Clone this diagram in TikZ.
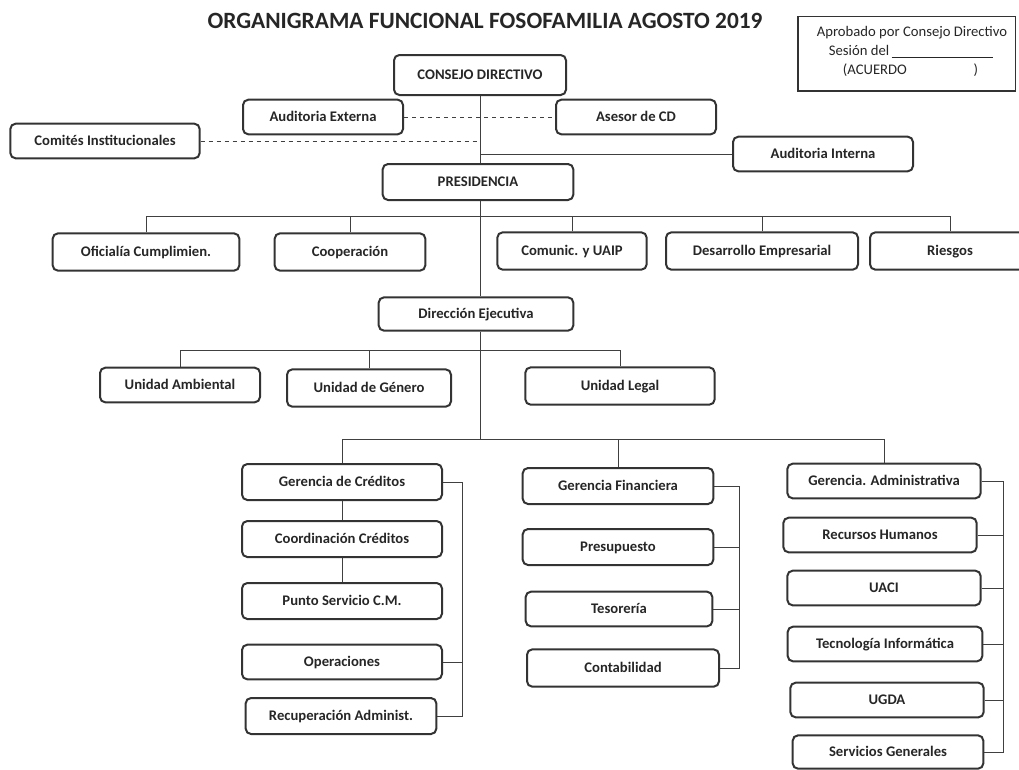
\documentclass[tikz,border=0pt]{standalone}
\usepackage{fontspec}
\setmainfont{Carlito}
\tikzset{every picture/.style={line width=0.75pt}}
\tikzset{
  unit/.style={draw=black!80, line width=1.5pt, rounded corners=4pt, inner sep=0pt,
    text height=7pt, text depth=0pt,
    text=black!85, font=\fontsize{11}{13}\selectfont\bfseries},
  link/.style={draw=black!75, line width=0.7pt},
}

\begin{document}
\begin{tikzpicture}[x=0.75pt,y=0.75pt,yscale=-1,xscale=1]
\useasboundingbox (0,0) rectangle (1019,769);
% Title
\node (title) at (485,21) {\fontsize{17.5}{20}\selectfont\bfseries\color{black!85}ORGANIGRAMA FUNCIONAL FOSOFAMILIA AGOSTO 2019};
%Shape: approval box
\node[draw=black!80, line width=1pt, minimum width=163pt, minimum height=56pt] (aprob) at (906.5,53.5) {};
\node[font=\fontsize{11}{13}\selectfont, text=black!85] (aprobtxt) at (912,33) {Aprobado por Consejo Directivo};
\node[font=\fontsize{11}{13}\selectfont, text=black!85, anchor=west] (sesion) at (824,52) {Sesión del\,\underline{\hspace{76pt}}};
\node[font=\fontsize{11}{13}\selectfont, text=black!85, anchor=west] (acuerdo) at (838,70) {(ACUERDO\hspace{50pt})};

% Top level
\node[unit, minimum width=129pt, minimum height=30pt] (consejo) at (480,75) {CONSEJO DIRECTIVO};
\node[unit, minimum width=120pt, minimum height=26pt] (audext) at (323,117) {Auditoria Externa};
\node[unit, minimum width=120pt, minimum height=26pt] (asesor) at (636,117) {Asesor de CD};
\node[unit, minimum width=142pt, minimum height=26pt] (comites) at (105,141) {Comités Institucionales};
\node[unit, minimum width=135pt, minimum height=26pt] (audint) at (823,154) {Auditoria Interna};
\node[unit, minimum width=143pt, minimum height=27pt] (presid) at (478,182) {PRESIDENCIA};

% Presidencia row
\node[unit, minimum width=140pt, minimum height=28pt] (oficialia) at (146,252) {Oficialía Cumplimien.};
\node[unit, minimum width=113pt, minimum height=28pt] (cooperacion) at (350,252) {Cooperación};
\node[unit, minimum width=112pt, minimum height=28pt] (comunic) at (572,251) {Comunic. y UAIP};
\node[unit, minimum width=144pt, minimum height=28pt] (desarrollo) at (762,251) {Desarrollo Empresarial};
\node[unit, minimum width=120pt, minimum height=28pt] (riesgos) at (950,251) {Riesgos};

% Direccion row
\node[unit, minimum width=146pt, minimum height=25pt] (direccion) at (476,314) {Dirección Ejecutiva};
\node[unit, minimum width=120pt, minimum height=26pt] (ambiental) at (180,385) {Unidad Ambiental};
\node[unit, minimum width=123pt, minimum height=28pt] (genero) at (369,388) {Unidad de Género};
\node[unit, minimum width=142pt, minimum height=28pt] (legal) at (620,386) {Unidad Legal};

% Gerencia de Creditos column
\node[unit, minimum width=150pt, minimum height=27pt] (gcred) at (342,482) {Gerencia de Créditos};
\node[unit, minimum width=150pt, minimum height=27pt] (coord) at (342,539) {Coordinación Créditos};
\node[unit, minimum width=150pt, minimum height=27pt] (punto) at (342,601) {Punto Servicio C.M.};
\node[unit, minimum width=150pt, minimum height=26pt] (oper) at (342,662) {Operaciones};
\node[unit, minimum width=143pt, minimum height=27pt] (recup) at (341,716) {Recuperación Administ.};

% Gerencia Financiera column
\node[unit, minimum width=143pt, minimum height=27pt] (gfin) at (618,486) {Gerencia Financiera};
\node[unit, minimum width=143pt, minimum height=27pt] (presup) at (618,547) {Presupuesto};
\node[unit, minimum width=140pt, minimum height=26pt] (tesor) at (619,609) {Tesorería};
\node[unit, minimum width=144pt, minimum height=28pt] (contab) at (623,668) {Contabilidad};

% Gerencia Administrativa column
\node[unit, minimum width=145pt, minimum height=26pt] (gadm) at (884,481) {Gerencia. Administrativa};
\node[unit, minimum width=145pt, minimum height=26pt] (rrhh) at (880,535) {Recursos Humanos};
\node[unit, minimum width=145pt, minimum height=26pt] (uaci) at (884,588) {UACI};
\node[unit, minimum width=146pt, minimum height=26pt] (tecno) at (885,644) {Tecnología Informática};
\node[unit, minimum width=145pt, minimum height=26pt] (ugda) at (887,700) {UGDA};
\node[unit, minimum width=143pt, minimum height=25pt] (servg) at (888,752) {Servicios Generales};

% buses and rails
\coordinate (bus1) at (480,216);
\coordinate (bus2) at (480,350);
\coordinate (bus3) at (480,439);
\coordinate (rail1) at (462,0);
\coordinate (rail2) at (739,0);
\coordinate (rail3) at (1003,0);

% spine
\draw[link] (consejo.south) -- (consejo.south |- presid.north);
\draw[link] (presid.south -| consejo.south) -- (direccion.north -| consejo.south);
\draw[link] (direccion.south -| consejo.south) -- (bus3);
% staff units
\draw[link, dashed] (audext.east) -- (asesor.west);
\draw[link, dashed] (comites.east) -- (comites.east -| consejo.south);
\draw[link] (audint.west -| consejo.south) -- (audint.west);
% presidencia units
\draw[link] (oficialia.north) |- (bus1) -| (riesgos.north);
\foreach \n in {cooperacion,comunic,desarrollo}
  \draw[link] (\n.north) -- (\n.north |- bus1);
% direccion units
\draw[link] (ambiental.north) |- (bus2) -| (legal.north);
\draw[link] (genero.north) -- (genero.north |- bus2);
% gerencias
\draw[link] (gcred.north) |- (bus3) -| (gadm.north);
\draw[link] (gfin.north) -- (gfin.north |- bus3);
\draw[link] (gcred.south) -- (coord.north);
\draw[link] (coord.south) -- (punto.north);
\draw[link] (gcred.east) -| (rail1 |- recup.east) -- (recup.east);
\draw[link] (oper.east) -- (oper.east -| rail1);
\draw[link] (gfin.east) -| (rail2 |- contab.east) -- (contab.east);
\foreach \n in {presup,tesor}
  \draw[link] (\n.east) -- (\n.east -| rail2);
\draw[link] (gadm.east) -| (rail3 |- servg.east) -- (servg.east);
\foreach \n in {rrhh,uaci,tecno,ugda}
  \draw[link] (\n.east) -- (\n.east -| rail3);
\end{tikzpicture}
\end{document}
